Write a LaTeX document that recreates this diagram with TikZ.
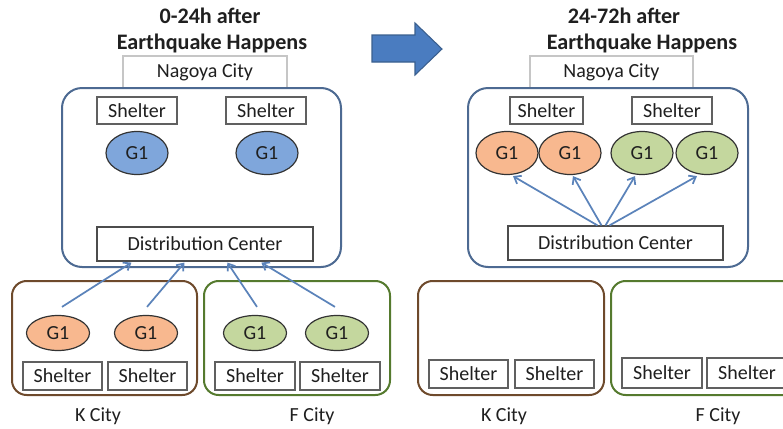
\documentclass[tikz,border=0pt]{standalone}
\usepackage{fontspec}
\setmainfont{Carlito}
\usetikzlibrary{arrows.meta,shapes.geometric,calc}
\definecolor{frameblue}{HTML}{4D6A92}
\definecolor{kbrown}{HTML}{6E4A2C}
\definecolor{fgreen}{HTML}{557A2E}
\definecolor{gblue}{HTML}{7FA6DB}
\definecolor{gorange}{HTML}{F8B88F}
\definecolor{ggreen}{HTML}{C4D79E}
\definecolor{arrblue}{HTML}{5B83BA}
\definecolor{bigarrow}{HTML}{4A7CC0}
\definecolor{bigarrowline}{HTML}{3A5F8E}
\definecolor{txt}{HTML}{1F1F1F}
\begin{document}
\begin{tikzpicture}[x=0.75pt,y=-0.75pt,
  every node/.style={text=txt,font=\fontsize{15pt}{17pt}\selectfont},
  titletext/.style={font=\bfseries\fontsize{16.6pt}{19pt}\selectfont,anchor=base},
  citylabel/.style={anchor=base},
  nagbox/.style={draw=gray!45,line width=1pt,fill=white,inner sep=0pt,minimum width=#1,minimum height=32*0.75pt},
  bigframe/.style={draw=frameblue,line width=1.5pt,rounded corners=15pt,inner sep=0pt,minimum width=#1,minimum height=179*0.75pt},
  shelterbox/.style={draw=gray!75!black,line width=0.9pt,fill=white,inner sep=0pt,minimum width=#1,minimum height=27*0.75pt},
  dcbox/.style={draw=gray!60!black,line width=0.9pt,fill=white,inner sep=0pt,minimum width=#1,minimum height=34*0.75pt},
  cityframe/.style={draw=#1,line width=1.5pt,rounded corners=11pt,inner sep=0pt,minimum height=114*0.75pt},
  gone/.style={ellipse,draw=black!80,line width=0.9pt,fill=#1,inner sep=0pt,minimum width=62*0.75pt,minimum height=43*0.75pt},
  gsmall/.style={ellipse,draw=black!80,line width=0.9pt,fill=#1,inner sep=0pt,minimum width=63*0.75pt,minimum height=35*0.75pt},
  supply/.style={draw=arrblue,line width=1.3pt,-{Straight Barb[length=4.5pt,width=7pt,line width=1.3pt]}}
]
\path[use as bounding box,clip] (0,0) rectangle (783,429);

% ---------------- big arrow ----------------
\draw[fill=bigarrow,draw=bigarrowline,line width=0.8pt]
  (372,35) -- (415,35) -- (415,23) -- (442,49) -- (415,75) -- (415,62) -- (372,62) -- cycle;

% ================= LEFT PANEL =================
\node[titletext] (t1a) at (210,23) {0-24h after};
\node[titletext] (t1b) at (212,49) {Earthquake Happens};

\node[nagbox=164*0.75pt] (nag1) at (205,72) {Nagoya City};
\node[bigframe=279*0.75pt] (big1) at (201.5,177.5) {};

\node[shelterbox=80*0.75pt] (s1a) at (137,110.5) {Shelter};
\node[shelterbox=80*0.75pt] (s1b) at (266,110.5) {Shelter};
\node[gone=gblue] (g1a) at (137,153) {G1};
\node[gone=gblue] (g1b) at (267,153) {G1};

\node[dcbox=216*0.75pt] (dc1) at (205,244) {Distribution Center};

\node[cityframe=kbrown,minimum width=185*0.75pt] (k1) at (104.5,338) {};
\node[cityframe=fgreen,minimum width=186*0.75pt] (f1) at (297,338) {};

\node[gsmall=gorange] (kg1) at (58,333) {G1};
\node[gsmall=gorange] (kg2) at (146,333) {G1};
\node[gsmall=ggreen] (fg1) at (255,333) {G1};
\node[gsmall=ggreen] (fg2) at (337,333) {G1};

\node[shelterbox=79*0.75pt,minimum height=28*0.75pt] (ks1) at (62.5,376) {Shelter};
\node[shelterbox=79*0.75pt,minimum height=28*0.75pt] (ks2) at (147.5,376) {Shelter};
\node[shelterbox=80*0.75pt,minimum height=28*0.75pt] (fs1) at (255,376) {Shelter};
\node[shelterbox=80*0.75pt,minimum height=28*0.75pt] (fs2) at (340,376) {Shelter};

\node[citylabel] (kl1) at (98,421) {K City};
\node[citylabel] (fl1) at (312,421) {F City};

\draw[supply] ($(kg1.north)+(4,-8)$) -- ($(dc1.south west)+(35,1)$);
\draw[supply] ($(kg2.north)+(1,-8)$) -- ($(dc1.south west)+(88,1)$);
\draw[supply] ($(fg1.north)+(2,-8)$) -- ($(dc1.south west)+(131,1)$);
\draw[supply] ($(fg2.north)+(-2,-8)$) -- ($(dc1.south west)+(165,1)$);

% ================= RIGHT PANEL =================
\node[titletext] (t2a) at (624,23) {24-72h after};
\node[titletext] (t2b) at (642,49) {Earthquake Happens};

\node[nagbox=163*0.75pt] (nag2) at (611.5,72) {Nagoya City};
\node[bigframe=280*0.75pt] (big2) at (608,177.5) {};

\node[shelterbox=73*0.75pt] (s2a) at (546.5,110.5) {Shelter};
\node[shelterbox=80*0.75pt] (s2b) at (672,110.5) {Shelter};

\node[gone=gorange] (e1) at (507,153) {G1};
\node[gone=gorange] (e2) at (570,153) {G1};
\node[gone=ggreen] (e3) at (642,153) {G1};
\node[gone=ggreen] (e4) at (707,153) {G1};

\node[dcbox=215*0.75pt] (dc2) at (615.5,243) {Distribution Center};

\draw[supply] ($(dc2.north)+(-18,0)$) -- ($(e1.south)+(6,1)$);
\draw[supply] ($(dc2.north)+(-14,0)$) -- ($(e2.south)+(3,1)$);
\draw[supply] ($(dc2.north)+(-10,0)$) -- ($(e3.south)+(-7,1)$);
\draw[supply] ($(dc2.north)+(-6,0)$) -- ($(e4.south)+(-10,1)$);

\node[cityframe=kbrown,minimum width=186*0.75pt] (k2) at (511,338) {};
\node[cityframe=fgreen,minimum width=190*0.75pt] (f2) at (706,338) {};

\node[shelterbox=79*0.75pt,minimum height=28*0.75pt] (ks3) at (468.5,374) {Shelter};
\node[shelterbox=79*0.75pt,minimum height=28*0.75pt] (ks4) at (554.5,374) {Shelter};
\node[shelterbox=80*0.75pt,minimum height=30*0.75pt] (fs3) at (662,373) {Shelter};
\node[shelterbox=80*0.75pt,minimum height=30*0.75pt] (fs4) at (747,373) {Shelter};

\node[citylabel] (kl2) at (504,421) {K City};
\node[citylabel] (fl2) at (718,421) {F City};
\end{tikzpicture}
\end{document}
